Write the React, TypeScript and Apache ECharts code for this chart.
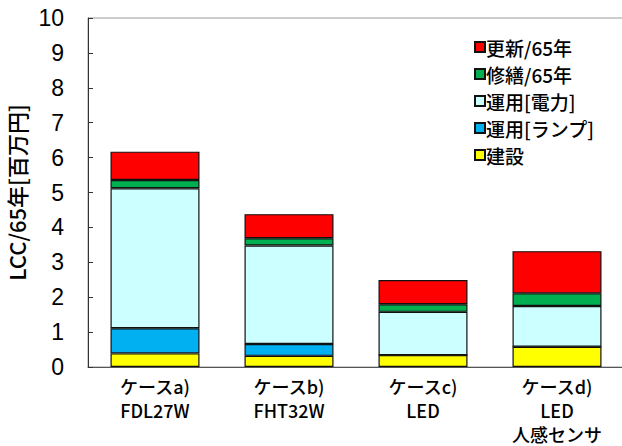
import React, { useEffect, useRef } from "react";
import * as echarts from "echarts";

const categories = ["ケースa)\nFDL27W", "ケースb)\nFHT32W", "ケースc)\nLED", "ケースd)\nLED\n人感センサ"];
const construction = [0.39, 0.32, 0.34, 0.58];
const lampOperation = [0.72, 0.34, 0, 0];
const powerOperation = [4.01, 2.82, 1.24, 1.17];
const repair = [0.24, 0.21, 0.22, 0.36];
const renewal = [0.81, 0.69, 0.69, 1.21];
const yTicks = [0, 1, 2, 3, 4, 5, 6, 7, 8, 9, 10];

const FONT_NUM = '"Liberation Sans", "Noto Sans CJK JP", sans-serif';
const FONT_JP = '"Noto Sans CJK JP", "Liberation Sans", sans-serif';

export default function App() {
  const ref = useRef<HTMLDivElement>(null);

  useEffect(() => {
    if (!ref.current) return;
    const chart = echarts.init(ref.current, null, { renderer: "svg" });

    const mk = (name: string, data: number[], color: string) => ({
      name,
      type: "bar",
      stack: "lcc",
      data,
      barWidth: 89,
      itemStyle: { color, borderColor: "#111", borderWidth: 1.2 },
    });

    chart.setOption({
      animation: false,
      backgroundColor: "#ffffff",
      textStyle: { fontFamily: FONT_JP },
      grid: {
        left: 88,
        top: 18,
        width: 536,
        height: 349,
        outerBoundsMode: "none",
        containLabel: false,
        show: true,
        borderColor: "#9a9a9a",
        borderWidth: 1,
      },
      legend: {
        orient: "vertical",
        left: 469,
        top: 32,
        itemWidth: 10,
        itemHeight: 10,
        itemGap: 7,
        icon: "rect",
        data: ["更新/65年", "修繕/65年", "運用[電力]", "運用[ランプ]", "建設"],
        textStyle: {
          fontSize: 19,
          color: "#000",
          fontFamily: FONT_JP,
          fontWeight: 500,
          lineHeight: 20,
          padding: [0, 0, 0, -4],
        },
      },
      xAxis: {
        type: "category",
        data: categories,
        axisLine: { lineStyle: { color: "#555", width: 1 } },
        axisTick: { show: false },
        axisLabel: {
          color: "#000",
          fontSize: 18,
          fontWeight: 500,
          lineHeight: 24,
          margin: 7,
          fontFamily: FONT_JP,
          interval: 0,
        },
      },
      yAxis: {
        type: "value",
        min: yTicks[0],
        max: yTicks[yTicks.length - 1],
        interval: 1,
        name: "LCC/65年[百万円]",
        nameLocation: "middle",
        nameRotate: 90,
        nameGap: 61,
        nameTextStyle: {
          fontSize: 22,
          lineHeight: 22,
          color: "#000",
          fontFamily: FONT_JP,
          fontWeight: 500,
        },
        axisLine: { show: true, lineStyle: { color: "#333", width: 1 } },
        axisTick: { show: true, inside: true, length: 5, lineStyle: { color: "#333" } },
        splitLine: { show: false },
        axisLabel: { color: "#000", fontSize: 23, margin: 24, fontFamily: FONT_NUM },
      },
      series: [
        mk("建設", construction, "#ffff00"),
        mk("運用[ランプ]", lampOperation, "#00b0f0"),
        mk("運用[電力]", powerOperation, "#ccffff"),
        mk("修繕/65年", repair, "#00b050"),
        mk("更新/65年", renewal, "#ff0000"),
      ],
    });

    return () => chart.dispose();
  }, []);

  return (
    <div
      ref={ref}
      style={{ position: "fixed", left: 0, top: 0, width: 622, height: 446, background: "#fff" }}
    />
  );
}
